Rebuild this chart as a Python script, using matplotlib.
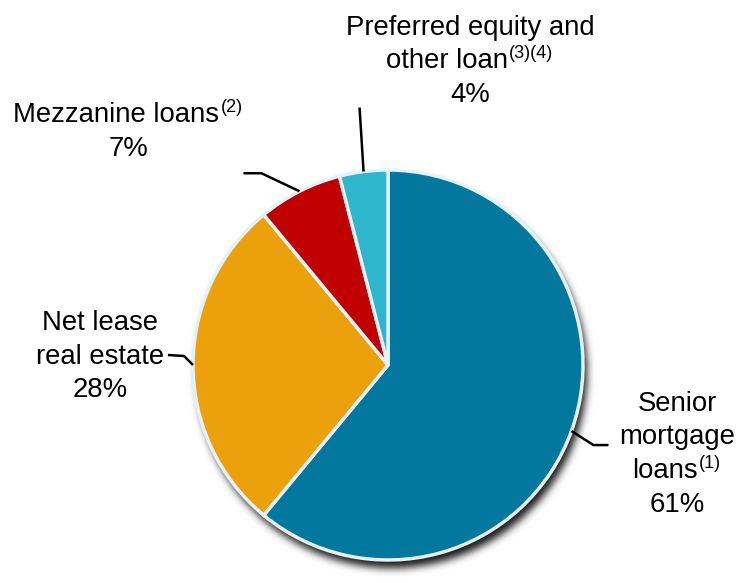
import numpy as np
import matplotlib.pyplot as plt

plt.rcParams['font.family'] = ['Liberation Sans', 'DejaVu Sans']

# portfolio split (%)
shares = [61, 28, 7, 4]
colors = ['#03789f', '#eba10c', '#c00000', '#2db6cc']
# label text lines, footnote marker goes on the last text line
label_lines = [
    ["Senior", "mortgage", "loans"],
    ["Net lease", "real estate"],
    ["Mezzanine loans"],
    ["Preferred equity and", "other loan"],
]
notes = ["(1)", "", "(2)", "(3)(4)"]

# layout, in pixels (y down)
W, H = 746, 583
cx, cy, r = 388, 365, 195
label_pos = [(677, 411), (100, 330), (128, 122), (470, 35)]
# leader line bends, relative to the point on the rim at the wedge middle
leaders = [
    [(22, 14), (37, 14)],
    [(-9, -9), (-25, -10)],
    [(-38, -18), (-56, -18)],
    [(-4, -64)],
]
FS = 19.8
SUP_FS = 13
PITCH = 33.5

fig = plt.figure(figsize=(W / 100, H / 100), dpi=100)
ax = fig.add_axes([0, 0, 1, 1])

# soft drop shadow under the pie
N = 520
x0, y0 = cx - N / 2 + 4, cy - N / 2 + 8
yy, xx = np.mgrid[0:N, 0:N] + 0.5
disk = ((xx - N / 2) ** 2 + (yy - N / 2) ** 2 <= r ** 2).astype(float)
k = np.exp(-0.5 * (np.arange(-15, 16) / 4.0) ** 2)
k /= k.sum()
blur = np.apply_along_axis(lambda v: np.convolve(v, k, mode='same'), 0, disk)
blur = np.apply_along_axis(lambda v: np.convolve(v, k, mode='same'), 1, blur)
rgba = np.zeros((N, N, 4))
rgba[..., 3] = blur * 0.9
ax.imshow(rgba, extent=(x0, x0 + N, y0 + N, y0), interpolation='bilinear', zorder=0)

# y axis runs downward, so counterclock here looks clockwise on screen
wedges, _ = ax.pie(shares, colors=colors, startangle=-90, counterclock=True,
                   center=(cx, cy), radius=r,
                   wedgeprops=dict(edgecolor='#e6f2f7', linewidth=2.5))
for w in wedges:
    w.set_zorder(2)

ax.set_xlim(0, W)
ax.set_ylim(H, 0)
ax.set_aspect('equal')
ax.axis('off')

renderer = fig.canvas.get_renderer()


def put_line(x, y, main, sup=""):
    t = ax.text(x, y, main, ha='left', va='baseline', fontsize=FS, zorder=5)
    wm = t.get_window_extent(renderer).width
    ws = 0
    s = None
    if sup:
        s = ax.text(x, y, sup, ha='left', va='baseline', fontsize=SUP_FS, zorder=5)
        ws = s.get_window_extent(renderer).width + 1
    left = x - (wm + ws) / 2
    t.set_x(left)
    if s is not None:
        s.set_position((left + wm + 1, y - 10))


for i, w in enumerate(wedges):
    mid = np.deg2rad((w.theta1 + w.theta2) / 2)
    sx, sy = cx + r * np.cos(mid), cy + r * np.sin(mid)
    px = [sx] + [sx + dx for dx, dy in leaders[i]]
    py = [sy] + [sy + dy for dx, dy in leaders[i]]
    ax.plot(px, py, color='black', lw=1.8, zorder=4, solid_capstyle='butt')

    lx, ly = label_pos[i]
    lines = label_lines[i]
    for j, txt in enumerate(lines):
        sup = notes[i] if j == len(lines) - 1 else ""
        put_line(lx, ly + j * PITCH, txt, sup)
    put_line(lx, ly + len(lines) * PITCH, f"{shares[i]}%")

fig.savefig('out.png', dpi=100)
